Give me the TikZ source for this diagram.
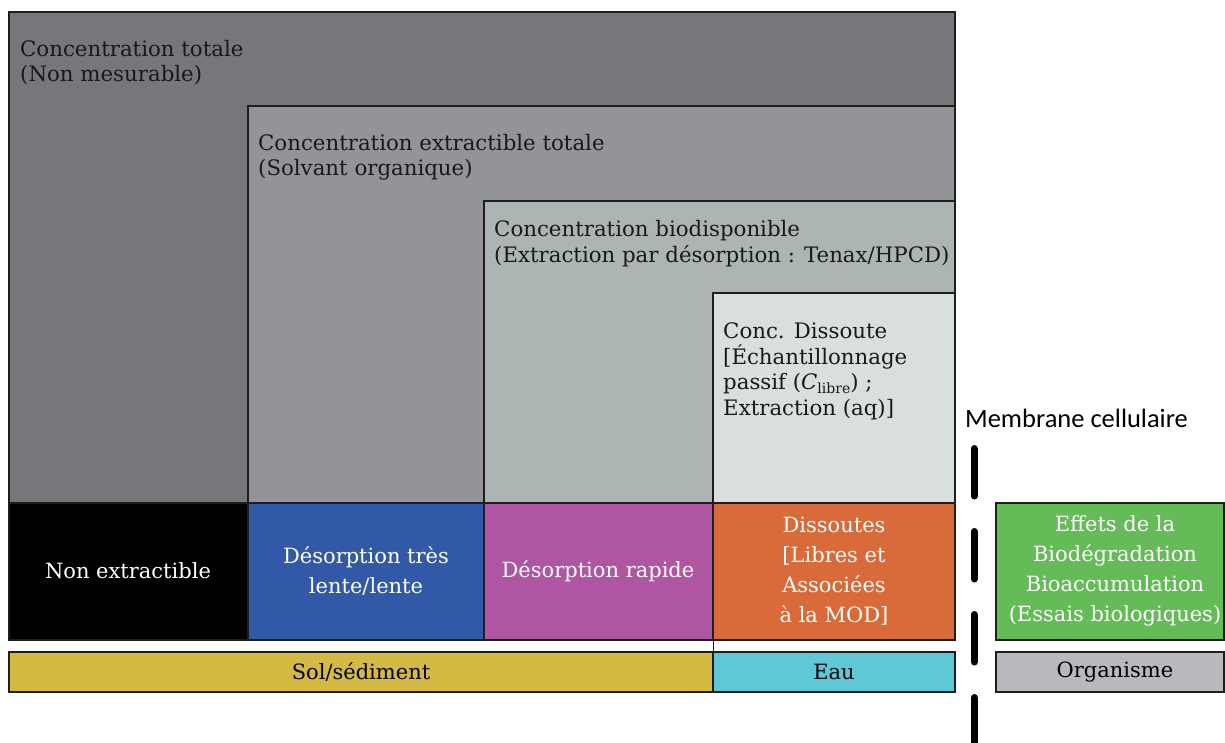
\documentclass[tikz,border=0pt]{standalone}
\usepackage{fontspec}
\setmainfont{DejaVu Serif}
\newfontfamily\calib{Carlito}
\newcommand{\fsa}{\fontsize{21.3}{25.5}\selectfont}
\newcommand{\fsb}{\fontsize{21}{30}\selectfont}
\newcommand{\subsm}[1]{\raisebox{-0.18em}{\fontsize{14}{14}\selectfont #1}}
\definecolor{cTot}{HTML}{75777B}
\definecolor{cExt}{HTML}{939498}
\definecolor{cBio}{HTML}{ADB5B4}
\definecolor{cDis}{HTML}{D9DFDF}
\definecolor{cBlue}{HTML}{3259A8}
\definecolor{cMag}{HTML}{AF56A2}
\definecolor{cOra}{HTML}{D96A3A}
\definecolor{cGre}{HTML}{65BB57}
\definecolor{cSol}{HTML}{D4B942}
\definecolor{cEau}{HTML}{5EC8D6}
\definecolor{cOrg}{HTML}{B8B9BC}
\definecolor{cLine}{HTML}{1E1E1E}
\begin{document}
\begin{tikzpicture}[x=1pt,y=-1pt,
  box/.style={draw=cLine, line width=1.3pt},
  lbl/.style={anchor=north west, inner sep=0pt, align=left, font=\fsa, text=black!90},
  ctr/.style={align=center, inner sep=0pt, font=\fsb},
  membrane/.style={line width=7pt, line cap=round, dash pattern=on 47.5pt off 35.5pt}]
\useasboundingbox (0,0) rectangle (1225,742);
% nested concentration boxes
\path[box, fill=cTot] (9,12) rectangle (955,503);
\path[box, fill=cExt] (248,106) rectangle (955,503);
\path[box, fill=cBio] (484,201) rectangle (955,503);
\path[box, fill=cDis] (713,293) rectangle (955,503);
\node[lbl] (tot) at (20,40) {Concentration totale\\(Non mesurable)};
\node[lbl] (ext) at (258,134) {Concentration extractible totale\\(Solvant organique)};
\node[lbl] (bio) at (494,220.5) {Concentration biodisponible\\(Extraction par désorption : Tenax/HPCD)};
\node[lbl] (dis) at (723,322.5) {Conc. Dissoute\\{[}Échantillonnage\\passif (\textit{C}\subsm{libre}) ;\\Extraction (aq)]};
% fractions row
\path[box, fill=black] (9,503) rectangle (248,640);
\path[box, fill=cBlue] (248,503) rectangle (484,640);
\path[box, fill=cMag] (484,503) rectangle (713,640);
\path[box, fill=cOra] (713,503) rectangle (955,640);
\node[ctr, text=white] (nonext) at (128,571) {Non extractible};
\node[ctr, text=white] (lente) at (366,571) {Désorption très\\lente/lente};
\node[ctr, text=white] (rapide) at (598,571) {Désorption rapide};
\node[ctr, text=white] (dissoutes) at (834,571) {Dissoutes\\{[}Libres et\\Associées\\à la MOD{]}};
% compartments row
\path[box, fill=cSol] (9,652) rectangle (713,692);
\path[box, fill=cEau] (713,652) rectangle (955,692);
\draw[cLine, line width=0.8pt] (713,640) -- (713,652);
\node[ctr] (sol) at (361,672) {Sol/sédiment};
\node[ctr] (eau) at (834,672) {Eau};
% organism side
\path[box, fill=cGre] (996,503) rectangle (1224,640);
\path[box, fill=cOrg] (996,652) rectangle (1224,692);
\node[ctr, text=white] (effets) at (1115,571) {Effets de la\\Biodégradation\\Bioaccumulation\\(Essais biologiques)};
\node[ctr] (org) at (1115,672) {Organisme};
% membrane
\node[inner sep=0pt, font=\calib\fontsize{26.5}{30}\selectfont] (memb) at (1076.5,418) {Membrane cellulaire};
\coordinate (mtop) at (974,448.5);
\coordinate (mbot) at (974,760);
\draw[membrane] (mtop) -- (mbot);
\end{tikzpicture}
\end{document}
